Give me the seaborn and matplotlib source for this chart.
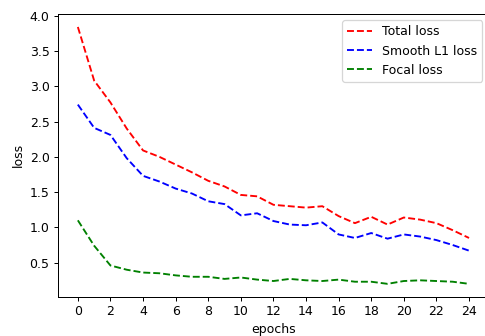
import matplotlib
matplotlib.use("Agg")
import matplotlib.pyplot as plt
import seaborn as sns
import pandas as pd

epochs = list(range(25))
total_loss = [3.84, 3.08, 2.77, 2.40, 2.09, 2.00, 1.89, 1.78, 1.66, 1.58, 1.46, 1.44, 1.32,
              1.30, 1.28, 1.30, 1.16, 1.06, 1.15, 1.04, 1.14, 1.11, 1.06, 0.96, 0.85]
smooth_l1_loss = [2.74, 2.41, 2.31, 1.98, 1.73, 1.65, 1.55, 1.48, 1.37, 1.33, 1.17, 1.20, 1.09,
                  1.04, 1.03, 1.07, 0.90, 0.85, 0.92, 0.84, 0.90, 0.87, 0.82, 0.75, 0.67]
focal_loss = [1.10, 0.74, 0.46, 0.40, 0.36, 0.35, 0.32, 0.30, 0.30, 0.27, 0.29, 0.26, 0.24,
              0.27, 0.25, 0.24, 0.26, 0.23, 0.23, 0.20, 0.24, 0.25, 0.24, 0.23, 0.20]

series = [("Total loss", total_loss, "r"),
          ("Smooth L1 loss", smooth_l1_loss, "b"),
          ("Focal loss", focal_loss, "g")]

plt.rcParams["font.family"] = ["DejaVu Sans"]
plt.rcParams["font.size"] = 10

DPI = 90
fig = plt.figure(figsize=(485 / DPI, 336 / DPI), dpi=DPI)
ax = fig.add_axes([0.1202, 0.117, 1.0074 - 0.1202, 0.958 - 0.117])

for name, vals, col in series:
    df = pd.DataFrame({"epochs": epochs, "loss": vals})
    sns.lineplot(data=df, x="epochs", y="loss", ax=ax, color=col,
                 linestyle="--", linewidth=1.5, label=name)

ax.set_xticks(list(range(0, 25, 2)))
ax.set_yticks([0.5, 1.0, 1.5, 2.0, 2.5, 3.0, 3.5, 4.0])
ax.set_xlabel("epochs")
ax.set_ylabel("loss")
ax.legend(loc="upper right")

fig.savefig("out.png", dpi=DPI)
